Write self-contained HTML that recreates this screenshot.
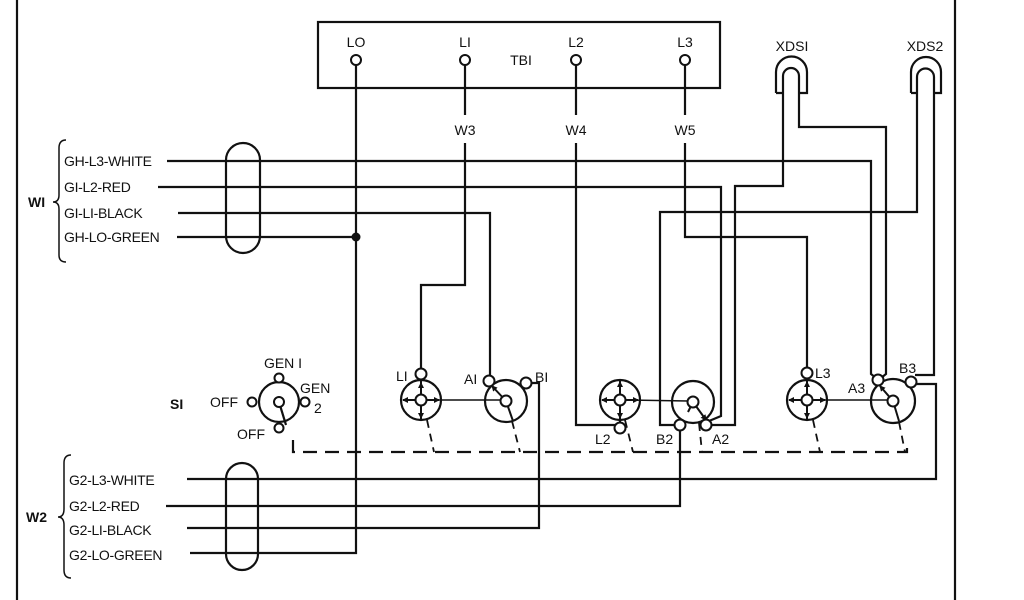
<!DOCTYPE html>
<html><head><meta charset="utf-8"><style>
html,body{margin:0;padding:0;background:#fff;}
svg{display:block;}
text{font-family:"Liberation Sans",sans-serif;font-size:14px;fill:#111;}
</style></head><body>
<svg width="1024" height="600" viewBox="0 0 1024 600" xmlns="http://www.w3.org/2000/svg">
<defs>
<marker id="ah" markerWidth="6" markerHeight="6" refX="5" refY="3" orient="auto" markerUnits="userSpaceOnUse"><path d="M0,0 L6,3 L0,6 z" fill="#111"/></marker>
</defs>
<g stroke="#111" stroke-width="2.2" fill="none">
<line x1="17" y1="0" x2="17" y2="600"/>
<line x1="955" y1="0" x2="955" y2="600"/>
<rect x="318" y="22" width="402" height="66"/>
<rect x="226" y="143" width="34" height="110" rx="17"/>
<rect x="226" y="463" width="32" height="107" rx="16"/>
<path d="M776,93 V72 A15.5,15.5 0 0 1 807,72 V93 H799 M776,93 H783"/>
<path d="M783,93 V76 A8,8 0 0 1 799,76 V93"/>
<path d="M911,93 V72 A15,15 0 0 1 941,72 V93 H934 M911,93 H917"/>
<path d="M917,93 V77 A8.5,8.5 0 0 1 934,77 V93"/>
<path d="M356,65 V553 H190"/>
<path d="M177,237 H356"/>
<path d="M465,65 V115 M465,143 V285 H421 V369"/>
<path d="M178,213 H490 V376"/>
<path d="M531,383 H539 V528 H187"/>
<path d="M576,65 V115 M576,143 V425 H615"/>
<path d="M685,65 V115 M685,143 V237 H807 V368"/>
<path d="M167,161 H871 V374 L876,378"/>
<path d="M799,93 V127 H886 V374 L881,378"/>
<path d="M158,187 H721 V416 L709,421"/>
<path d="M783,93 V186 H735 V425 H711"/>
<path d="M917,93 V212 H660 V425 H675"/>
<path d="M680,430 V506 H166"/>
<path d="M934,93 V375 H915"/>
<path d="M916,384 H936 V479 H187"/>
<circle cx="279" cy="402" r="20"/>
<line x1="279" y1="402" x2="286" y2="425"/>
<circle cx="421" cy="400" r="20"/>
<circle cx="620" cy="400" r="20"/>
<circle cx="807" cy="400" r="20"/>
<circle cx="506" cy="401" r="21"/>
<circle cx="693" cy="402" r="21"/>
<circle cx="893" cy="401" r="22"/>
<g stroke-width="1.5">
<line x1="426" y1="400" x2="501" y2="400"/>
<line x1="625" y1="400" x2="688" y2="401"/>
<line x1="812" y1="400" x2="888" y2="400"/>
</g>
<path d="M293,440 V452 H907 V440" stroke-dasharray="14,8"/>
<g stroke-dasharray="8,6" stroke-width="1.8">
<line x1="427" y1="420" x2="434" y2="452"/>
<line x1="512" y1="421" x2="520" y2="452"/>
<line x1="625" y1="420" x2="633" y2="452"/>
<line x1="699" y1="423" x2="702" y2="452"/>
<line x1="813" y1="420" x2="820" y2="452"/>
<line x1="899" y1="422" x2="905" y2="452"/>
</g>
</g>
<g stroke="#111" stroke-width="2" fill="none">
<line x1="421" y1="380" x2="421" y2="420"/>
<line x1="421" y1="400" x2="403" y2="400" marker-end="url(#ah)"/>
<line x1="421" y1="400" x2="439" y2="400" marker-end="url(#ah)"/>
<line x1="421" y1="400" x2="421" y2="383" marker-end="url(#ah)"/>
<line x1="421" y1="400" x2="421" y2="418" marker-end="url(#ah)"/>
<line x1="620" y1="380" x2="620" y2="422"/>
<line x1="620" y1="400" x2="602" y2="400" marker-end="url(#ah)"/>
<line x1="620" y1="400" x2="638" y2="400" marker-end="url(#ah)"/>
<line x1="620" y1="400" x2="620" y2="382" marker-end="url(#ah)"/>
<line x1="620" y1="400" x2="620" y2="418" marker-end="url(#ah)"/>
<line x1="807" y1="380" x2="807" y2="420"/>
<line x1="807" y1="400" x2="789" y2="400" marker-end="url(#ah)"/>
<line x1="807" y1="400" x2="825" y2="400" marker-end="url(#ah)"/>
<line x1="807" y1="400" x2="807" y2="382" marker-end="url(#ah)"/>
<line x1="807" y1="400" x2="807" y2="418" marker-end="url(#ah)"/>
<line x1="506" y1="401" x2="492" y2="386" marker-end="url(#ah)"/>
<line x1="506" y1="401" x2="513" y2="421"/>
<line x1="693" y1="402" x2="706" y2="420" marker-end="url(#ah)"/>
<line x1="693" y1="402" x2="688" y2="412"/>
<line x1="893" y1="401" x2="880" y2="386" marker-end="url(#ah)"/>
<line x1="893" y1="401" x2="899" y2="421"/>
</g>
<g stroke="#111" stroke-width="2" fill="#fff">
<circle cx="356" cy="60" r="5"/><circle cx="465" cy="60" r="5"/><circle cx="576" cy="60" r="5"/><circle cx="685" cy="60" r="5"/>
<circle cx="279" cy="378" r="4.5"/><circle cx="252" cy="402" r="4.5"/><circle cx="305" cy="402" r="4.5"/><circle cx="279" cy="428" r="4.5"/><circle cx="279" cy="402" r="5"/>
<circle cx="421" cy="374" r="5.5"/><circle cx="421" cy="400" r="5.5"/>
<circle cx="489" cy="381" r="5.5"/><circle cx="526" cy="383" r="5.5"/><circle cx="506" cy="401" r="5.5"/>
<circle cx="620" cy="428" r="5.5"/><circle cx="620" cy="400" r="5.5"/>
<circle cx="680" cy="425" r="5.5"/><circle cx="706" cy="425" r="5.5"/><circle cx="693" cy="402" r="5.5"/>
<circle cx="807" cy="373" r="5.5"/><circle cx="807" cy="400" r="5.5"/>
<circle cx="878" cy="380" r="5.5"/><circle cx="911" cy="382" r="5.5"/><circle cx="893" cy="401" r="5.5"/>
</g>
<circle cx="356" cy="237" r="4.5" fill="#111"/>
<g stroke="#111" stroke-width="1.5" fill="none">
<path d="M66,140 Q59,140 59,148 V195 Q59,202 53,202 Q59,202 59,209 V255 Q59,262 66,262"/>
<path d="M71,455 Q64,455 64,463 V509 Q64,517 58,517 Q64,517 64,525 V570 Q64,578 71,578"/>
</g>
<text x="356" y="47" text-anchor="middle">LO</text>
<text x="465" y="47" text-anchor="middle">LI</text>
<text x="576" y="47" text-anchor="middle">L2</text>
<text x="685" y="47" text-anchor="middle">L3</text>
<text x="521" y="65" text-anchor="middle">TBI</text>
<text x="465" y="135" text-anchor="middle">W3</text>
<text x="576" y="135" text-anchor="middle">W4</text>
<text x="685" y="135" text-anchor="middle">W5</text>
<text x="792" y="51" text-anchor="middle">XDSI</text>
<text x="925" y="51" text-anchor="middle">XDS2</text>
<text x="64" y="166" letter-spacing="-0.3">GH-L3-WHITE</text>
<text x="64" y="192" letter-spacing="-0.3">GI-L2-RED</text>
<text x="64" y="218" letter-spacing="-0.3">GI-LI-BLACK</text>
<text x="64" y="242" letter-spacing="-0.3">GH-LO-GREEN</text>
<text x="28" y="207" font-weight="bold">WI</text>
<text x="69" y="485" letter-spacing="-0.3">G2-L3-WHITE</text>
<text x="69" y="511" letter-spacing="-0.3">G2-L2-RED</text>
<text x="69" y="535" letter-spacing="-0.3">G2-LI-BLACK</text>
<text x="69" y="560" letter-spacing="-0.3">G2-LO-GREEN</text>
<text x="26" y="522" font-weight="bold">W2</text>
<text x="170" y="409" font-weight="bold">SI</text>
<text x="283" y="368" text-anchor="middle">GEN I</text>
<text x="210" y="407">OFF</text>
<text x="300" y="393">GEN</text>
<text x="314" y="413">2</text>
<text x="237" y="439">OFF</text>
<text x="396" y="381">LI</text>
<text x="464" y="384">AI</text>
<text x="535" y="382">BI</text>
<text x="595" y="444">L2</text>
<text x="656" y="444">B2</text>
<text x="712" y="444">A2</text>
<text x="815" y="378">L3</text>
<text x="848" y="393">A3</text>
<text x="899" y="373">B3</text>
</svg>
</body></html>
